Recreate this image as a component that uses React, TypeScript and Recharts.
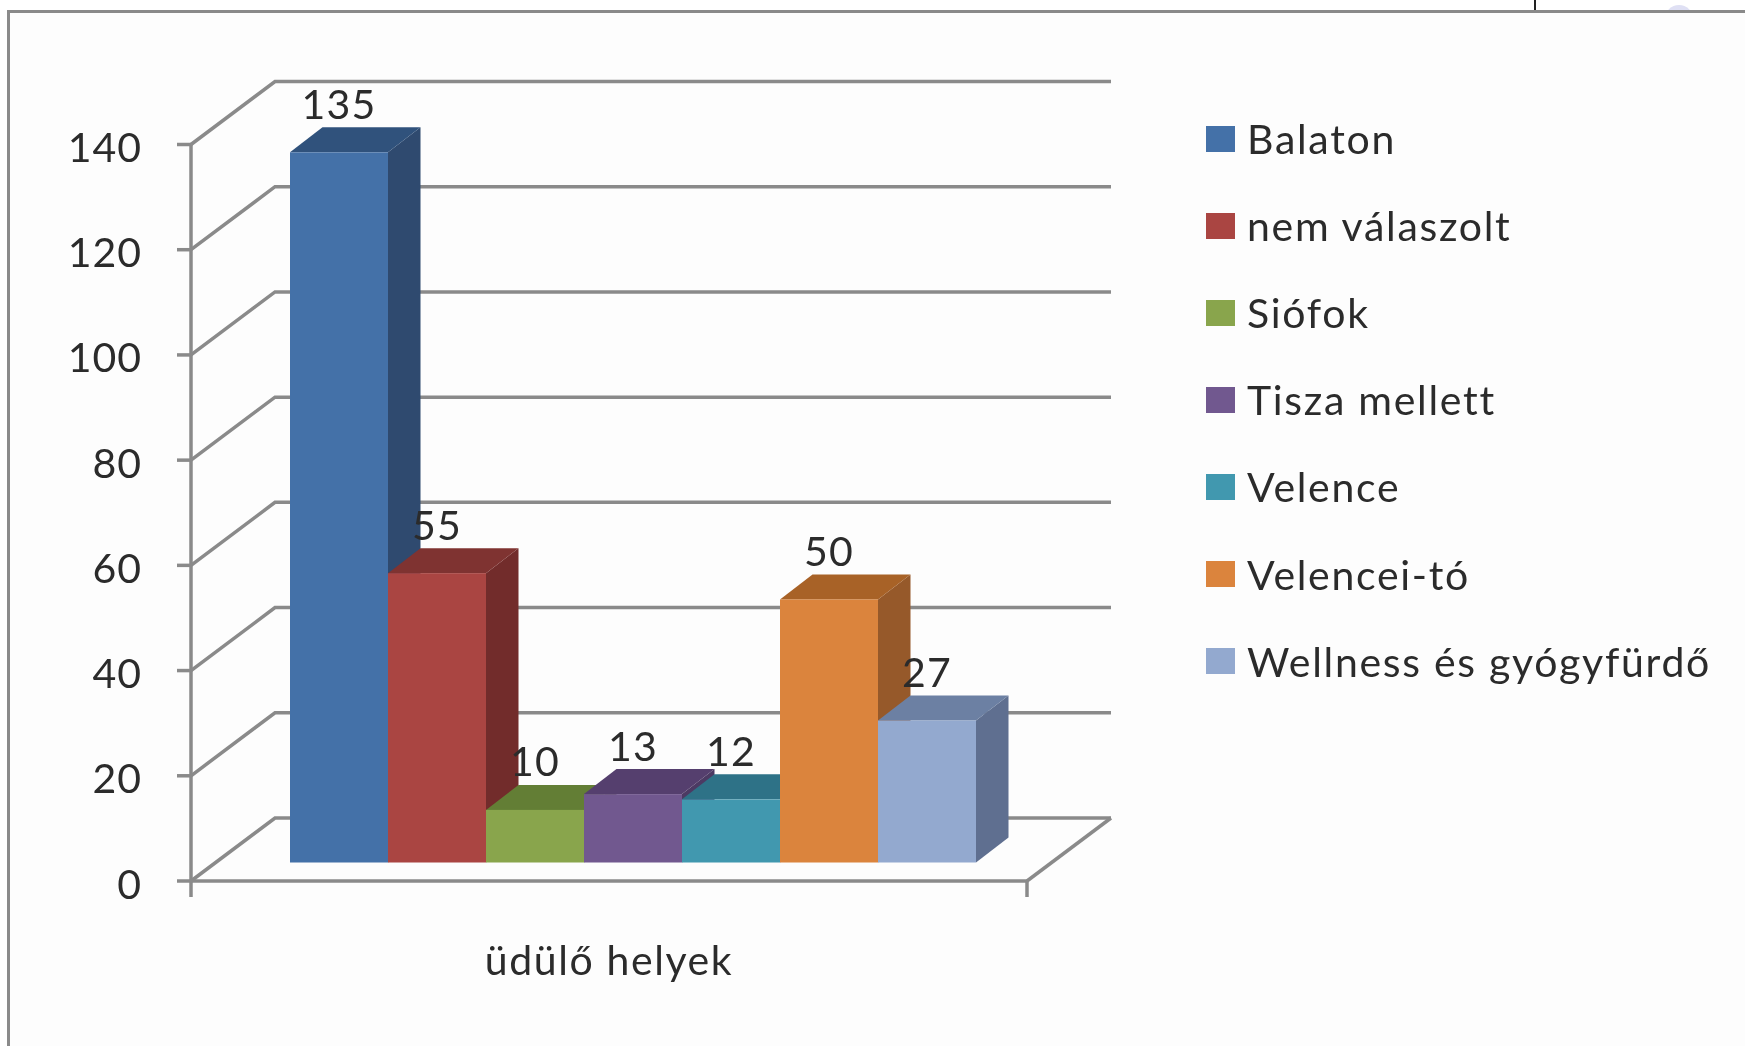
import React from "react";
import { BarChart, Bar, XAxis, YAxis, CartesianGrid, Legend, LabelList } from "recharts";

const categories = ["üdülő helyek"];
const seriesNames = ["Balaton", "nem válaszolt", "Siófok", "Tisza mellett", "Velence", "Velencei-tó", "Wellness és gyógyfürdő"];
const seriesValues = [135, 55, 10, 13, 12, 50, 27];
const frontColors = ["#4471a8", "#aa4542", "#89a54c", "#71588f", "#4198af", "#db843d", "#93a9cf"];
const sideColors = ["#2f4a6f", "#722c2b", "#5e7433", "#4c3a63", "#2c6879", "#96592a", "#5f6f90"];
const topColors = ["#30527c", "#7f3331", "#637e35", "#553f6e", "#2e7287", "#a86227", "#6c80a3"];
const yTicks = [0, 20, 40, 60, 80, 100, 120, 140];

const chartData = categories.map((name) => {
  const row: Record<string, string | number> = { name };
  seriesNames.forEach((s, i) => { row[s] = seriesValues[i]; });
  return row;
});

const GRID = "#8a8a8a";
const TEXT = "#2b2b2b";
const FONT = "Lato, 'Open Sans', sans-serif";
const WALL_DX = 84;
const WALL_DY = 63;
const BAR_DX = 25;
const BAR_DY = 18.5;
const DEPTH_X = 32.5;
const DEPTH_Y = 25;

const GridLine = (p: any) => {
  const { x1, y1, x2 } = p;
  const isFloor = Math.abs(y1 - (p.y + p.height)) < 1;
  const bx = x1 + WALL_DX;
  const by = y1 - WALL_DY;
  const rx = x2 + WALL_DX;
  return (
    <g key={p.key ?? y1} fill="none" stroke={GRID} strokeWidth={3.5}>
      <polyline points={`${x1},${y1} ${bx},${by} ${rx},${by}`} />
      {isFloor && (
        <>
          <line x1={x1} y1={y1} x2={x2} y2={y1} />
          <line x1={x2} y1={y1} x2={rx} y2={by} />
          <line x1={x1} y1={y1} x2={x1} y2={y1 + 16} />
          <line x1={x2} y1={y1} x2={x2} y2={y1 + 16} />
        </>
      )}
    </g>
  );
};

const Bar3D = (i: number) => (p: any) => {
  const x = p.x + BAR_DX;
  const y = p.y - BAR_DY;
  const w = p.width;
  const h = p.height;
  return (
    <g>
      <polygon fill={sideColors[i]} points={`${x + w},${y} ${x + w + DEPTH_X},${y - DEPTH_Y} ${x + w + DEPTH_X},${y + h - DEPTH_Y} ${x + w},${y + h}`} />
      <polygon fill={topColors[i]} points={`${x},${y} ${x + DEPTH_X},${y - DEPTH_Y} ${x + w + DEPTH_X},${y - DEPTH_Y} ${x + w},${y}`} />
      <rect x={x} y={y} width={w} height={h} fill={frontColors[i]} />
    </g>
  );
};

const BarValue = (p: any) => (
  <text x={p.x + BAR_DX + p.width / 2} y={p.y - BAR_DY - 33.5} textAnchor="middle" fontFamily={FONT} fontSize={41} letterSpacing={1.2} fill={TEXT}>
    {p.value}
  </text>
);

const YTick = (p: any) => (
  <text x={142} y={p.y + 17.5} textAnchor="end" fontFamily={FONT} fontSize={41} letterSpacing={1} fill={TEXT}>
    {p.payload.value}
  </text>
);

const XTick = (p: any) => (
  <text x={p.x} y={975} textAnchor="middle" fontFamily={FONT} fontSize={41} letterSpacing={1.6} fill={TEXT}>
    {p.payload.value}
  </text>
);

const LegendBox = (p: any) => (
  <div style={{ fontFamily: FONT, fontSize: 41, letterSpacing: 1.7, color: TEXT }}>
    {(p.payload ?? []).map((e: any) => (
      <div key={e.value} style={{ height: 87.1, display: "flex", alignItems: "center", whiteSpace: "nowrap" }}>
        <span style={{ display: "inline-block", width: 29, height: 26, background: e.color, marginRight: 12 }} />
        <span>{e.value}</span>
      </div>
    ))}
  </div>
);

export default function App() {
  return (
    <div style={{ position: "absolute", left: 0, top: 0, width: 1745, height: 1046, overflow: "hidden", background: "#fff", filter: "blur(0.5px)" }}>
      <div style={{ position: "absolute", left: 1534, top: 0, width: 1.5, height: 10, background: "#222" }} />
      <div style={{ position: "absolute", left: 1665, top: 5, width: 28, height: 28, borderRadius: 14, background: "#dfe0f4" }} />
      <div style={{ position: "absolute", left: 7, top: 10, width: 1780, height: 1080, border: "3px solid #8a8a8a", background: "#fdfdfd" }} />
      <div style={{ position: "absolute", left: 0, top: 0 }}>
        <BarChart
          width={1745}
          height={1046}
          data={chartData}
          margin={{ top: 144.5, right: 718, bottom: 105, left: 91 }}
          barCategoryGap={74}
          barGap={0}
        >
          <CartesianGrid horizontal={GridLine} vertical={false} />
          <XAxis dataKey="name" height={60} tick={XTick} tickLine={false} axisLine={false} interval={0} />
          <YAxis
            width={100}
            domain={[0, 140]}
            ticks={yTicks}
            tick={YTick}
            tickSize={14}
            tickLine={{ stroke: GRID, strokeWidth: 3.5 }}
            axisLine={{ stroke: GRID, strokeWidth: 3.5 }}
          />
          <Legend
            layout="vertical"
            align="center"
            verticalAlign="middle"
            content={LegendBox}
            itemSorter={null}
            wrapperStyle={{ left: 1206, top: 95, width: 530, height: 620 }}
          />
          {seriesNames.map((s, i) => (
            <Bar key={s} dataKey={s} name={s} fill={frontColors[i]} shape={Bar3D(i)} isAnimationActive={false}>
              <LabelList dataKey={s} content={BarValue} />
            </Bar>
          ))}
        </BarChart>
      </div>
    </div>
  );
}
